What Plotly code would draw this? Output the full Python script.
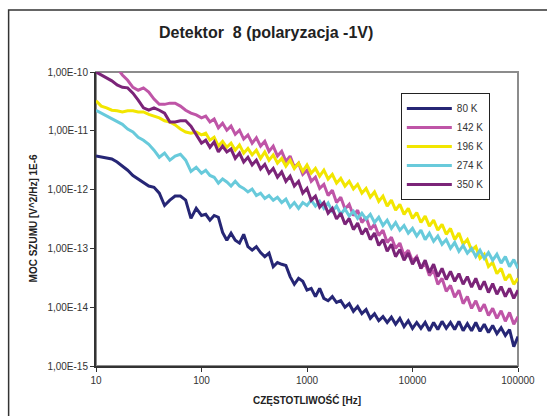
import plotly.graph_objects as go

# frequency grid, as log10(f) exponents read along the x axis
FREQ_EXP = [1.00, 1.05, 1.10, 1.15, 1.20, 1.25, 1.30, 1.35, 1.40, 1.45, 1.50,
            1.55, 1.60, 1.65, 1.70, 1.75, 1.80, 1.85, 1.90, 1.95, 2.00,
            2.04, 2.08, 2.12, 2.16, 2.20, 2.24, 2.28, 2.32, 2.36, 2.40,
            2.44, 2.48, 2.52, 2.56, 2.60, 2.64, 2.68, 2.72, 2.76, 2.80,
            2.84, 2.88, 2.92, 2.96, 3.00, 3.04, 3.08, 3.12, 3.16, 3.20,
            3.24, 3.28, 3.32, 3.36, 3.40, 3.44, 3.48, 3.52, 3.56, 3.60,
            3.64, 3.68, 3.72, 3.76, 3.80, 3.84, 3.88, 3.92, 3.96, 4.00,
            4.04, 4.08, 4.12, 4.16, 4.20, 4.24, 4.28, 4.32, 4.36, 4.40,
            4.44, 4.48, 4.52, 4.56, 4.60, 4.64, 4.68, 4.72, 4.76, 4.80,
            4.84, 4.88, 4.92, 4.96, 5.00]

# noise power, as log10 exponents
K80 = [-11.43, -11.45, -11.47, -11.48, -11.53, -11.60, -11.67, -11.76, -11.82, -11.89, -11.94,
       -11.96, -12.06, -12.27, -12.18, -12.11, -12.11, -12.18, -12.49, -12.32, -12.44,
       -12.42, -12.52, -12.44, -12.47, -12.73, -12.86, -12.74, -12.86, -12.91, -12.76,
       -12.97, -13.03, -12.97, -13.07, -13.14, -13.08, -13.31, -13.24, -13.27, -13.29,
       -13.48, -13.61, -13.51, -13.56, -13.71, -13.68, -13.82, -13.68, -13.85, -13.89,
       -13.82, -13.92, -13.89, -14.00, -13.94, -14.07, -13.99, -14.11, -14.04, -14.19,
       -14.11, -14.23, -14.16, -14.26, -14.17, -14.29, -14.19, -14.33, -14.23, -14.36,
       -14.26, -14.36, -14.26, -14.40, -14.26, -14.38, -14.24, -14.36, -14.26, -14.38,
       -14.24, -14.40, -14.28, -14.40, -14.26, -14.41, -14.29, -14.43, -14.31, -14.45,
       -14.35, -14.48, -14.38, -14.67, -14.50]

K142 = [-9.54, -9.64, -9.74, -9.85, -9.93, -10.05, -10.14, -10.26, -10.31, -10.27, -10.34,
        -10.46, -10.55, -10.55, -10.53, -10.53, -10.58, -10.65, -10.70, -10.73, -10.78,
        -10.75, -10.85, -10.80, -10.95, -10.87, -10.99, -10.92, -11.06, -10.99, -11.14,
        -11.07, -11.21, -11.12, -11.26, -11.18, -11.35, -11.26, -11.43, -11.35, -11.52,
        -11.43, -11.62, -11.55, -11.74, -11.67, -11.86, -11.79, -11.98, -11.91, -12.10,
        -12.01, -12.22, -12.13, -12.33, -12.25, -12.44, -12.35, -12.56, -12.47, -12.68,
        -12.59, -12.78, -12.69, -12.90, -12.81, -13.00, -12.91, -13.12, -13.03, -13.22,
        -13.14, -13.34, -13.25, -13.46, -13.37, -13.61, -13.51, -13.73, -13.63, -13.83,
        -13.71, -13.94, -13.82, -14.02, -13.89, -14.07, -13.95, -14.14, -14.02, -14.19,
        -14.06, -14.24, -14.09, -14.29, -14.16]

K196 = [-10.49, -10.58, -10.61, -10.65, -10.66, -10.68, -10.66, -10.66, -10.68, -10.68, -10.72,
        -10.75, -10.78, -10.83, -10.85, -10.90, -10.97, -11.02, -11.04, -11.02, -11.07,
        -11.04, -11.16, -11.11, -11.26, -11.18, -11.28, -11.21, -11.33, -11.24, -11.38,
        -11.30, -11.41, -11.33, -11.47, -11.36, -11.50, -11.41, -11.55, -11.47, -11.60,
        -11.50, -11.64, -11.55, -11.69, -11.58, -11.72, -11.64, -11.77, -11.67, -11.82,
        -11.74, -11.89, -11.81, -11.94, -11.86, -11.99, -11.91, -12.06, -11.98, -12.13,
        -12.04, -12.20, -12.11, -12.28, -12.18, -12.35, -12.25, -12.42, -12.32, -12.49,
        -12.39, -12.56, -12.45, -12.62, -12.52, -12.69, -12.59, -12.76, -12.66, -12.85,
        -12.74, -12.93, -12.85, -13.03, -12.97, -13.17, -13.10, -13.31, -13.24, -13.43,
        -13.34, -13.54, -13.44, -13.61, -13.51]

K274 = [-10.65, -10.70, -10.75, -10.80, -10.85, -10.89, -10.97, -11.02, -11.11, -11.16, -11.23,
        -11.33, -11.45, -11.38, -11.50, -11.43, -11.40, -11.50, -11.69, -11.62, -11.72,
        -11.67, -11.76, -11.79, -11.89, -11.82, -11.87, -11.94, -11.86, -11.94, -11.98,
        -12.04, -11.99, -12.10, -12.06, -12.15, -12.10, -12.18, -12.13, -12.22, -12.16,
        -12.30, -12.22, -12.32, -12.22, -12.27, -12.18, -12.28, -12.20, -12.32, -12.23,
        -12.37, -12.28, -12.42, -12.33, -12.45, -12.37, -12.49, -12.40, -12.50, -12.42,
        -12.56, -12.47, -12.61, -12.52, -12.66, -12.56, -12.69, -12.61, -12.74, -12.66,
        -12.79, -12.69, -12.85, -12.74, -12.88, -12.79, -12.93, -12.85, -13.00, -12.90,
        -13.05, -12.95, -13.08, -13.00, -13.14, -13.03, -13.17, -13.07, -13.20, -13.10,
        -13.25, -13.14, -13.31, -13.19, -13.34]

K350 = [-10.00, -10.05, -10.10, -10.15, -10.22, -10.26, -10.27, -10.36, -10.48, -10.61, -10.65,
        -10.61, -10.65, -10.70, -10.85, -10.85, -10.83, -10.83, -10.92, -11.07, -11.21,
        -11.16, -11.28, -11.19, -11.36, -11.26, -11.36, -11.31, -11.47, -11.38, -11.53,
        -11.45, -11.58, -11.50, -11.65, -11.57, -11.72, -11.64, -11.79, -11.70, -11.86,
        -11.77, -11.94, -11.86, -12.06, -11.98, -12.18, -12.11, -12.30, -12.22, -12.40,
        -12.32, -12.50, -12.40, -12.59, -12.49, -12.68, -12.57, -12.76, -12.66, -12.85,
        -12.74, -12.95, -12.85, -13.05, -12.93, -13.14, -13.02, -13.20, -13.08, -13.27,
        -13.15, -13.34, -13.20, -13.41, -13.27, -13.48, -13.34, -13.53, -13.39, -13.56,
        -13.43, -13.61, -13.48, -13.66, -13.51, -13.70, -13.56, -13.75, -13.60, -13.78,
        -13.65, -13.82, -13.68, -13.85, -13.71]

SERIES_NAMES = ["80 K", "142 K", "196 K", "274 K", "350 K"]
SERIES_VALUES = [K80, K142, K196, K274, K350]
COLORS = ["#262675", "#bf55a7", "#f2e600", "#68cadb", "#7b2478"]

X_TICKS = [10, 100, 1000, 10000, 100000]
X_TICK_TEXT = ["10", "100", "1000", "10000", "100000"]
Y_TICKS = [1e-15, 1e-14, 1e-13, 1e-12, 1e-11, 1e-10]
Y_TICK_TEXT = ["1,00E-15", "1,00E-14", "1,00E-13", "1,00E-12", "1,00E-11", "1,00E-10"]

FONT = "Arial, 'Liberation Sans', sans-serif"

freqs = [10 ** e for e in FREQ_EXP]

fig = go.Figure()
for name, vals, col in zip(SERIES_NAMES, SERIES_VALUES, COLORS):
    fig.add_trace(go.Scatter(
        x=freqs, y=[10 ** v for v in vals], mode="lines", name=name,
        line=dict(color=col, width=3), hoverinfo="skip"))

W, H = 547, 416
L_, R_, T_, B_ = 96, 26, 72, 50
pw, ph = W - L_ - R_, H - T_ - B_


def px(x):
    return (x - L_) / pw


def py(y):
    return (H - B_ - y) / ph


fig.update_layout(
    width=W, height=H,
    margin=dict(l=L_, r=R_, t=T_, b=B_),
    paper_bgcolor="white", plot_bgcolor="white",
    font=dict(family=FONT, size=10, color="#333333"),
    showlegend=True,
    legend=dict(x=px(403), y=py(93), xanchor="left", yanchor="top",
                bgcolor="white", bordercolor="#222222", borderwidth=1,
                font=dict(family=FONT, size=10, color="#333333"),
                itemwidth=45, tracegroupgap=0),
    xaxis=dict(type="log", range=[1, 5], tickvals=X_TICKS, ticktext=X_TICK_TEXT,
               ticks="outside", ticklen=4, tickwidth=1, tickcolor="#333333",
               showline=True, linecolor="#333333", linewidth=2,
               showgrid=False, zeroline=False,
               tickfont=dict(family=FONT, size=10, color="#333333")),
    yaxis=dict(type="log", range=[-15, -10], tickvals=Y_TICKS, ticktext=Y_TICK_TEXT,
               ticks="outside", ticklen=4, tickwidth=1, tickcolor="#333333",
               showline=True, linecolor="#333333", linewidth=2,
               showgrid=False, zeroline=False,
               tickfont=dict(family=FONT, size=10, color="#333333")),
    shapes=[
        dict(type="rect", xref="paper", yref="paper", x0=0, x1=1, y0=0, y1=1,
             line=dict(color="#8c8c8c", width=2), layer="below"),
        dict(type="rect", xref="paper", yref="paper",
             x0=px(8), x1=px(552), y0=py(420), y1=py(10),
             line=dict(color="#333333", width=1.5), layer="below"),
    ],
    annotations=[
        dict(text="<b>Detektor  8 (polaryzacja -1V)</b>", xref="paper", yref="paper",
             x=px(267), y=py(33), xanchor="center", yanchor="middle", showarrow=False,
             font=dict(family=FONT, size=16, color="#222222")),
        dict(text="<b>MOC SZUMU [V^2/Hz] 1E-6</b>", xref="paper", yref="paper",
             x=px(33), y=py(218), xanchor="center", yanchor="middle", showarrow=False,
             textangle=-90, font=dict(family=FONT, size=10, color="#222222")),
        dict(text="<b>CZĘSTOTLIWOŚĆ [Hz]</b>", xref="paper", yref="paper",
             x=px(309), y=py(400), xanchor="center", yanchor="middle", showarrow=False,
             font=dict(family=FONT, size=10, color="#222222")),
    ],
)

fig.write_html("out.html")
